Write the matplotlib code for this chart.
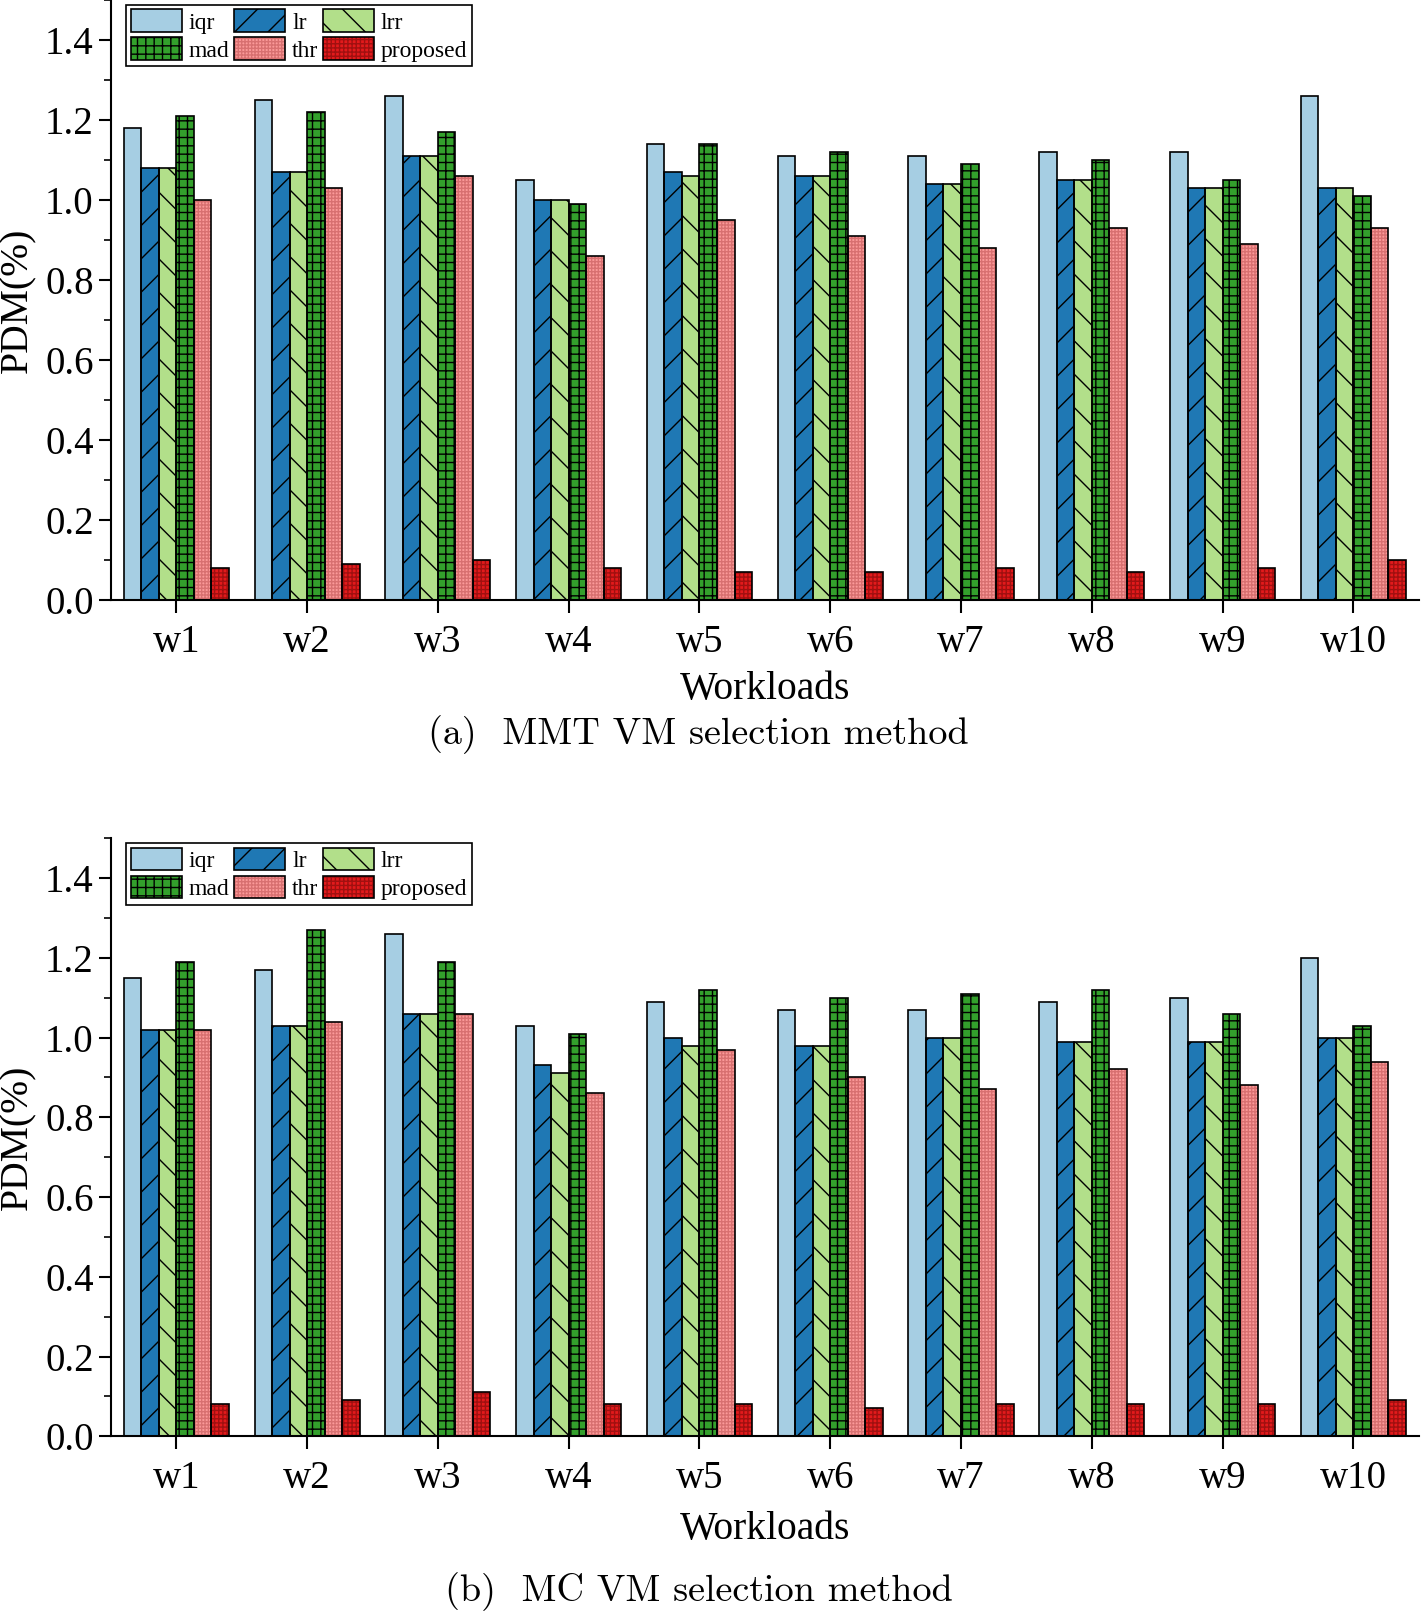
import numpy as np
import matplotlib
matplotlib.use("Agg")
from matplotlib import pyplot as plt
from matplotlib.ticker import MultipleLocator, FormatStrFormatter
from matplotlib.patches import Patch
from matplotlib.legend_handler import HandlerTuple

plt.rcParams['font.family'] = 'Liberation Serif'
plt.rcParams['hatch.linewidth'] = 1.0

workloads = ['w1', 'w2', 'w3', 'w4', 'w5', 'w6', 'w7', 'w8', 'w9', 'w10']
methods = ['iqr', 'lr', 'lrr', 'mad', 'thr', 'proposed']

# (a) MMT VM selection
mmt_iqr = [1.18, 1.25, 1.26, 1.05, 1.14, 1.11, 1.11, 1.12, 1.12, 1.26]
mmt_lr = [1.08, 1.07, 1.11, 1.00, 1.07, 1.06, 1.04, 1.05, 1.03, 1.03]
mmt_lrr = [1.08, 1.07, 1.11, 1.00, 1.06, 1.06, 1.04, 1.05, 1.03, 1.03]
mmt_mad = [1.21, 1.22, 1.17, 0.99, 1.14, 1.12, 1.09, 1.10, 1.05, 1.01]
mmt_thr = [1.00, 1.03, 1.06, 0.86, 0.95, 0.91, 0.88, 0.93, 0.89, 0.93]
mmt_proposed = [0.08, 0.09, 0.10, 0.08, 0.07, 0.07, 0.08, 0.07, 0.08, 0.10]

# (b) MC VM selection
mc_iqr = [1.15, 1.17, 1.26, 1.03, 1.09, 1.07, 1.07, 1.09, 1.10, 1.20]
mc_lr = [1.02, 1.03, 1.06, 0.93, 1.00, 0.98, 1.00, 0.99, 0.99, 1.00]
mc_lrr = [1.02, 1.03, 1.06, 0.91, 0.98, 0.98, 1.00, 0.99, 0.99, 1.00]
mc_mad = [1.19, 1.27, 1.19, 1.01, 1.12, 1.10, 1.11, 1.12, 1.06, 1.03]
mc_thr = [1.02, 1.04, 1.06, 0.86, 0.97, 0.90, 0.87, 0.92, 0.88, 0.94]
mc_proposed = [0.08, 0.09, 0.11, 0.08, 0.08, 0.07, 0.08, 0.08, 0.08, 0.09]

panels = [
    ([mmt_iqr, mmt_lr, mmt_lrr, mmt_mad, mmt_thr, mmt_proposed], '(a)  MMT VM selection method'),
    ([mc_iqr, mc_lr, mc_lrr, mc_mad, mc_thr, mc_proposed], '(b)  MC VM selection method'),
]

# fill colour, hatch, hatch colour
styles = {
    'iqr': ('#a6cee3', '', 'black'),
    'lr': ('#1f78b4', '/', 'black'),
    'lrr': ('#b2df8a', '\\', 'black'),
    'mad': ('#33a02c', '++', 'black'),
    'thr': ('#fb9a99', '+++++', '#d87070'),
    'proposed': ('#e31a1c', '++++', '#a01010'),
}

fig = plt.figure(figsize=(14.23, 16.12), dpi=100)
ax_a = fig.add_axes([0.078, 0.6275, 0.919, 0.3725])
ax_b = fig.add_axes([0.078, 0.109, 0.919, 0.371])
caption_y = [0.544, 0.0125]
xlabel_y = [-0.148, -0.156]

x = np.arange(1, len(workloads) + 1)
w = 0.134

for ax, (series, caption), cy, ly in zip([ax_a, ax_b], panels, caption_y, xlabel_y):
    handles = {}
    for i, (name, vals) in enumerate(zip(methods, series)):
        fc, hatch, hc = styles[name]
        pos = x + (i - 2.5) * w
        # fill + hatch layer, then black outline on top
        ax.bar(pos, vals, w, color=fc, hatch=hatch, edgecolor=hc, linewidth=0, zorder=2)
        ax.bar(pos, vals, w, fill=False, edgecolor='black', linewidth=1.2, zorder=3)
        handles[name] = (Patch(facecolor=fc, hatch=hatch, edgecolor=hc, linewidth=0),
                         Patch(fill=False, edgecolor='black', linewidth=1.2))

    ax.set_xlim(0.5, 10.5)
    ax.set_ylim(0, 1.5)
    ax.set_xticks(x)
    ax.set_xticklabels(workloads)
    ax.yaxis.set_major_locator(MultipleLocator(0.2))
    ax.yaxis.set_minor_locator(MultipleLocator(0.1))
    ax.yaxis.set_major_formatter(FormatStrFormatter('%.1f'))
    ax.tick_params(axis='both', which='major', labelsize=28, length=9, width=1.5, direction='out')
    ax.tick_params(axis='x', which='major', pad=8)
    ax.tick_params(axis='y', which='minor', length=5, width=1.2, direction='out')
    for s in ['top', 'right']:
        ax.spines[s].set_visible(False)
    for s in ['left', 'bottom']:
        ax.spines[s].set_linewidth(1.5)
    ax.set_ylabel('PDM(%)', fontsize=28.5, va='center')
    ax.yaxis.set_label_coords(-0.071, 0.5)
    ax.set_xlabel('Workloads', fontsize=28.5, va='center')
    ax.xaxis.set_label_coords(0.5, ly)

    order = ['iqr', 'mad', 'lr', 'thr', 'lrr', 'proposed']
    leg = ax.legend([handles[k] for k in order], order, ncol=3, loc='upper left',
                    bbox_to_anchor=(0.008, 1.0), handler_map={tuple: HandlerTuple(ndivide=1)},
                    prop={'family': 'Liberation Serif', 'size': 17}, frameon=True, fancybox=False,
                    edgecolor='black', framealpha=1, handlelength=2.15, handleheight=1.1,
                    handletextpad=0.3, columnspacing=0.2, labelspacing=0.15, borderpad=0.2,
                    borderaxespad=0.2)
    leg.get_frame().set_linewidth(1.2)

    fig.text(0.491, cy, caption, fontsize=27.5, family='cmr10', ha='center', va='center')

fig.savefig('out.png', dpi=100)
